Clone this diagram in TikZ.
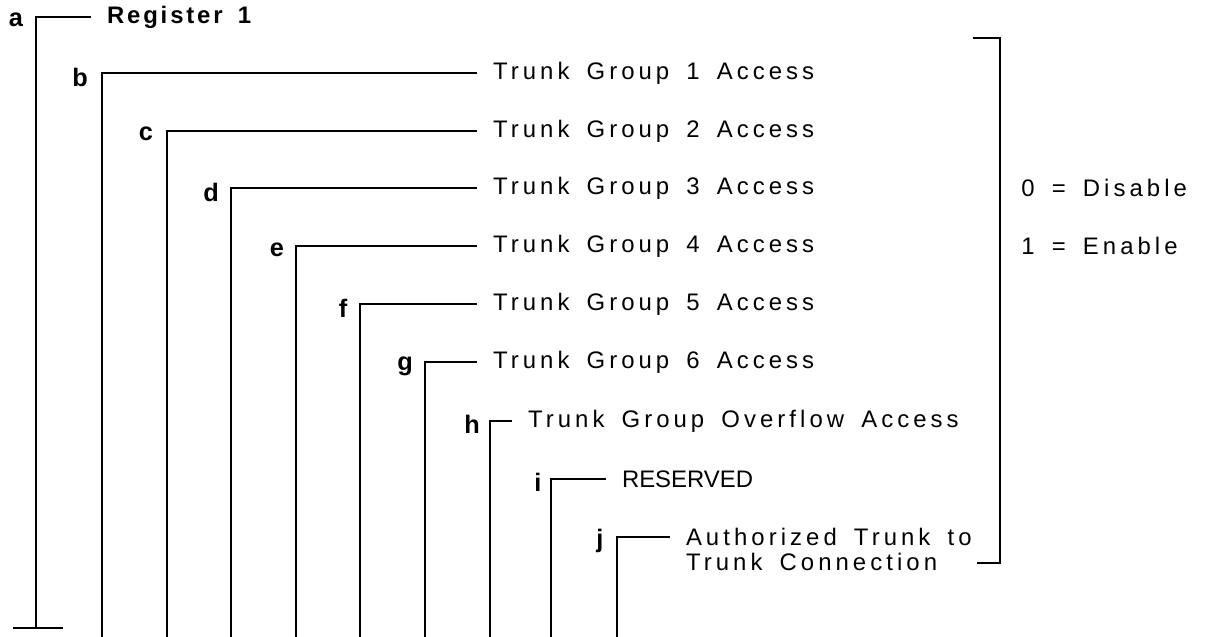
\documentclass[tikz,border=0pt]{standalone}
\usepackage{fontspec}
\setmainfont{Liberation Sans}[LetterSpace=17, WordSpace=1.6]
\newfontfamily\regfont{Liberation Sans}[LetterSpace=12, WordSpace=1.6]
\newfontfamily\plainfont{Liberation Sans}

\begin{document}
\begin{tikzpicture}[x=0.025cm, y=-0.025cm, line width=2pt,
    field/.style={anchor=west, inner sep=0pt, outer sep=0.4cm, font=\fontsize{17}{21}\selectfont},
    legend/.style={anchor=west, inner sep=0pt, font=\fontsize{17}{21}\selectfont},
    tag/.style={inner sep=0pt, font=\plainfont\bfseries\fontsize{18}{21}\selectfont}]
    \useasboundingbox (0,0) rectangle (1213,637);

    % field texts, anchored at the end of each leader
    \node[field, font=\regfont\bfseries\fontsize{17}{21}\selectfont] (ta) at (91,17) {Register 1};
    \node[field] (tb) at (477,73) {Trunk Group 1 Access};
    \node[field] (tc) at (477,131) {Trunk Group 2 Access};
    \node[field] (td) at (477,188) {Trunk Group 3 Access};
    \node[field] (te) at (477,246) {Trunk Group 4 Access};
    \node[field] (tf) at (477,304) {Trunk Group 5 Access};
    \node[field] (tg) at (477,362) {Trunk Group 6 Access};
    \node[field] (th) at (512,421) {Trunk Group Overflow Access};
    \node[field, font=\plainfont\fontsize{17}{20}\selectfont] (ti) at (606,479) {RESERVED};
    \node[field] (tj) at (670,537) {Authorized Trunk to};
    \node[field] (tj2) at (670,562) {Trunk Connection};

    % bit letters
    \node[tag] (la) at (16,20) {a};
    \node[tag] (lb) at (80,77) {b};
    \node[tag] (lc) at (146,134) {c};
    \node[tag] (ld) at (211,192) {d};
    \node[tag] (le) at (277,250) {e};
    \node[tag] (lf) at (343,308) {f};
    \node[tag] (lg) at (405,366) {g};
    \node[tag] (lh) at (472,424) {h};
    \node[tag] (li) at (538,482) {i};
    \node[tag] (lj) at (600,541) {j};

    % bottom ends of the leaders
    \coordinate (ba) at (36,628);
    \coordinate (bb) at (102,637);
    \coordinate (bc) at (167,637);
    \coordinate (bd) at (231,637);
    \coordinate (be) at (296,637);
    \coordinate (bf) at (360,637);
    \coordinate (bg) at (425,637);
    \coordinate (bh) at (490,637);
    \coordinate (bi) at (551,637);
    \coordinate (bj) at (617,637);

    % leaders
    \draw (ta.west) -| (ba);
    \draw (tb.west) -| (bb);
    \draw (tc.west) -| (bc);
    \draw (td.west) -| (bd);
    \draw (te.west) -| (be);
    \draw (tf.west) -| (bf);
    \draw (tg.west) -| (bg);
    \draw (th.west) -| (bh);
    \draw (ti.west) -| (bi);
    \draw (tj.west) -| (bj);

    % foot of register line
    \coordinate (fl) at (13,628);
    \coordinate (fr) at (63,628);
    \draw (fl) -- (fr);

    % bracket for b..j and its legend
    \coordinate (k1) at (973,38);
    \coordinate (k2) at (1000,38);
    \coordinate (k3) at (1000,563);
    \coordinate (k4) at (977,563);
    \draw (k1) -- (k2) -- (k3) -- (k4);
    \node[legend] (off) at (1020,188) {0 = Disable};
    \node[legend] (on) at (1020,246) {1 = Enable};
\end{tikzpicture}
\end{document}
